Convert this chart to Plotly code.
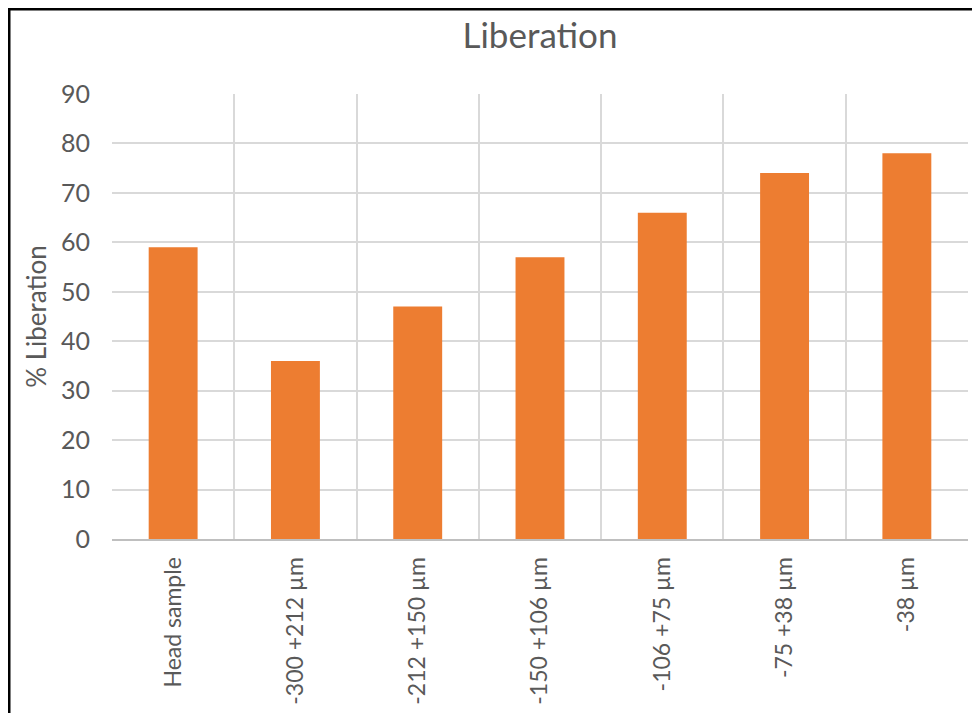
import plotly.graph_objects as go

categories = ["Head sample", "-300 +212 µm", "-212 +150 µm", "-150 +106 µm",
              "-106 +75 µm", "-75 +38 µm", "-38 µm"]
liberation = [59, 36, 47, 57, 66, 74, 78]
y_ticks = [0, 10, 20, 30, 40, 50, 60, 70, 80, 90]

FONT = "Lato, Calibri, Carlito, sans-serif"
TXT = "#595959"

# page has an 8px body margin, so the figure is 972x705
W, H = 972, 705
L, R, T, B = 104, 12, 86, 174
PW, PH = W - L - R, H - T - B

fig = go.Figure(go.Bar(
    x=categories, y=liberation,
    marker=dict(color="#ed7d31", line=dict(width=0)),
    width=0.4,
))

fig.update_layout(
    width=W, height=H,
    margin=dict(l=L, r=R, t=T, b=B, autoexpand=False),
    paper_bgcolor="white", plot_bgcolor="white",
    showlegend=False,
    title=dict(text="Liberation", x=0.5, xanchor="center", xref="paper",
               y=1 - 28 / H, yanchor="middle", yref="container",
               font=dict(family=FONT, size=35, color=TXT)),
    font=dict(family=FONT, color=TXT),
    xaxis=dict(
        type="category", tickson="boundaries", showgrid=True,
        gridcolor="#d9d9d9", gridwidth=2,
        showline=True, linecolor="#bfbfbf", linewidth=2,
        ticks="", tickangle=-90, ticklabelstandoff=7,
        tickfont=dict(family=FONT, size=23, color=TXT),
        fixedrange=True,
    ),
    yaxis=dict(
        range=[0, 90], tickvals=y_ticks, showgrid=True,
        gridcolor="#d9d9d9", gridwidth=2, zeroline=False,
        showline=False, ticks="", ticklabelstandoff=21,
        tickfont=dict(family=FONT, size=25, color=TXT),
        title=dict(text="% Liberation", standoff=6,
                   font=dict(family=FONT, size=26, color=TXT)),
        fixedrange=True,
    ),
    shapes=[dict(type="rect", xref="paper", yref="paper",
                 x0=(1 - L) / PW, x1=(W + 10 - L) / PW,
                 y0=-(B + 20) / PH, y1=(PH + T - 1) / PH,
                 line=dict(color="black", width=3), fillcolor="rgba(0,0,0,0)",
                 layer="above")],
)

fig.write_html("out.html")
